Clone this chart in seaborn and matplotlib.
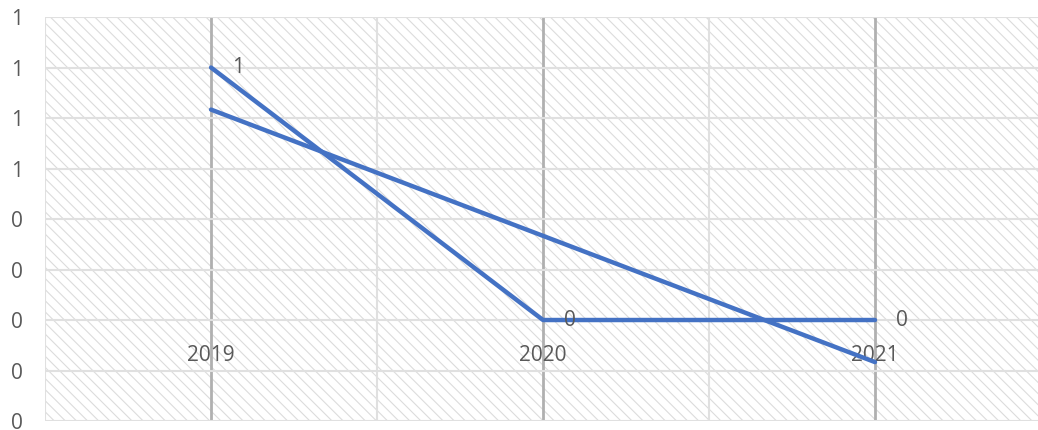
import numpy as np
import pandas as pd
import matplotlib
matplotlib.use('Agg')
import matplotlib.pyplot as plt
import seaborn as sns
from matplotlib.patches import Rectangle
from matplotlib.ticker import FixedLocator, FuncFormatter


years = [2019, 2020, 2021]
values = [0.7, 0.2, 0.2]
y_ticks = [0.0, 0.1, 0.2, 0.3, 0.4, 0.5, 0.6, 0.7, 0.8]
data_labels = ['1', '0', '0']

line_color = '#4472C4'
text_color = '#595959'

sns.set_style('white')
plt.rcParams['font.family'] = ['Open Sans', 'DejaVu Sans']
plt.rcParams['hatch.linewidth'] = 0.8

df = pd.DataFrame({'year': years, 'value': values})

fig = plt.figure(figsize=(10.38, 4.30), dpi=100)
ax = fig.add_axes([0.0434, 0.0209, 0.9595, 0.9395])
ax.patch.set_visible(False)
ax.set_axisbelow(True)

# hatched plot area
ax.add_patch(Rectangle((0, 0), 1, 1, transform=ax.transAxes, facecolor='white',
                       edgecolor='#dcdcdc', hatch='\\\\\\', lw=0, zorder=0))

sns.lineplot(data=df, x='year', y='value', color=line_color, lw=3.2, ax=ax, zorder=3)
# linear trendline
sns.regplot(data=df, x='year', y='value', scatter=False, ci=None, truncate=True,
            color=line_color, line_kws=dict(lw=3.2, zorder=3), ax=ax)

for x, y, lab in zip(years, values, data_labels):
    ax.annotate(lab, (x, y), xytext=(15, 0), textcoords='offset points',
                ha='left', va='center', fontsize=15, color=text_color, zorder=4)

ax.set_xlim(2018.5, 2021.5)
ax.set_ylim(0, 0.8)
ax.yaxis.set_major_locator(FixedLocator(y_ticks))
ax.yaxis.set_major_formatter(FuncFormatter(lambda v, p: str(int(np.floor(v * 10 + 0.5) / 10 + 0.5))))
ax.xaxis.set_major_locator(FixedLocator(years))
ax.xaxis.set_major_formatter(FuncFormatter(lambda v, p: str(int(round(v)))))
ax.xaxis.set_minor_locator(FixedLocator([2018.5, 2019.5, 2020.5]))

ax.grid(True, axis='y', which='major', color='#e0e0e0', lw=1.5)
ax.grid(True, axis='x', which='major', color='#b0b0b0', lw=2)
ax.grid(True, axis='x', which='minor', color='#e0e0e0', lw=1.5)

for s in ax.spines.values():
    s.set_visible(False)
ax.spines['bottom'].set_position(('data', 0.2))

ax.tick_params(axis='x', which='both', length=0, pad=18, labelsize=15, labelcolor=text_color)
ax.tick_params(axis='y', length=0, pad=16, labelsize=15, labelcolor=text_color)
ax.set_xlabel('')
ax.set_ylabel('')

plt.savefig('out.png', dpi=100)
